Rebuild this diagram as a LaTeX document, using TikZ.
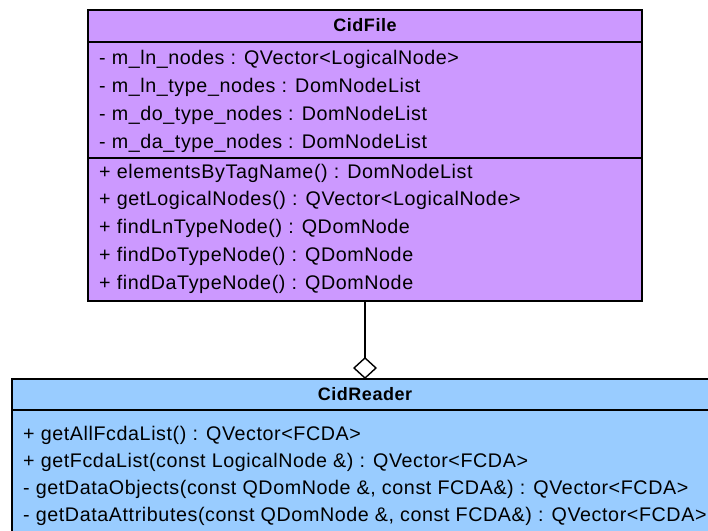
\documentclass[tikz,border=0pt]{standalone}
\usepackage{fontspec}
\setmainfont{Liberation Sans}[LetterSpace=3]
\usetikzlibrary{arrows.meta, positioning}
\definecolor{claseLila}{HTML}{CC99FF}
\definecolor{claseAzul}{HTML}{99CCFF}

\begin{document}
\begin{tikzpicture}[x=1pt, y=-1pt,
        seccion/.style={draw, line width=1.4pt, inner sep=0pt, outer sep=0pt, minimum width=#1},
        titulo/.style={anchor=base, inner sep=0pt, font=\bfseries\fontsize{18}{20}\selectfont},
        miembro/.style={anchor=base west, inner sep=0pt, font=\fontsize{19.7}{22}\selectfont},
        agreg/.style={-{Diamond[open, length=22pt, width=24pt, line width=1.4pt]}, line width=1.6pt}
    ]
        \useasboundingbox (0,0) rectangle (708,530);
        \clip (0,0) rectangle (708,530);

        % clase CidFile
        \node[seccion=554pt, fill=claseLila, anchor=north west, minimum height=32pt] (fileTit) at (88,10) {};
        \node[seccion=554pt, fill=claseLila, below=0pt of fileTit, minimum height=116pt] (fileAtr) {};
        \node[seccion=554pt, fill=claseLila, below=0pt of fileAtr, minimum height=143pt] (fileMet) {};
        \node[titulo] (fileNom) at (365,31) {CidFile};
        \node[miembro] (fa1) at (99,64) {- m\_ln\_nodes : QVector<LogicalNode>};
        \node[miembro] (fa2) at (99,92) {- m\_ln\_type\_nodes : DomNodeList};
        \node[miembro] (fa3) at (99,120) {- m\_do\_type\_nodes : DomNodeList};
        \node[miembro] (fa4) at (99,148) {- m\_da\_type\_nodes : DomNodeList};
        \node[miembro] (fm1) at (99,178) {+ elementsByTagName() : DomNodeList};
        \node[miembro] (fm2) at (99,205) {+ getLogicalNodes() : QVector<LogicalNode>};
        \node[miembro] (fm3) at (99,233) {+ findLnTypeNode() : QDomNode};
        \node[miembro] (fm4) at (99,261) {+ findDoTypeNode() : QDomNode};
        \node[miembro] (fm5) at (99,289) {+ findDaTypeNode() : QDomNode};

        % clase CidReader
        \node[seccion=706pt, fill=claseAzul, anchor=north west, minimum height=31pt] (readTit) at (12,379) {};
        \node[seccion=706pt, fill=claseAzul, below=0pt of readTit, minimum height=180pt] (readMet) {};
        \node[titulo] (readNom) at (365,400) {CidReader};
        \node[miembro] (rm1) at (23,440) {+ getAllFcdaList() : QVector<FCDA>};
        \node[miembro] (rm2) at (23,467) {+ getFcdaList(const LogicalNode \&) : QVector<FCDA>};
        \node[miembro] (rm3) at (23,494) {- getDataObjects(const QDomNode \&, const FCDA\&) : QVector<FCDA>};
        \node[miembro] (rm4) at (23,521) {- getDataAttributes(const QDomNode \&, const FCDA\&) : QVector<FCDA>};

        % agregacion
        \draw[agreg] (fileMet.south) -- (readTit.north);
    \end{tikzpicture}
\end{document}
